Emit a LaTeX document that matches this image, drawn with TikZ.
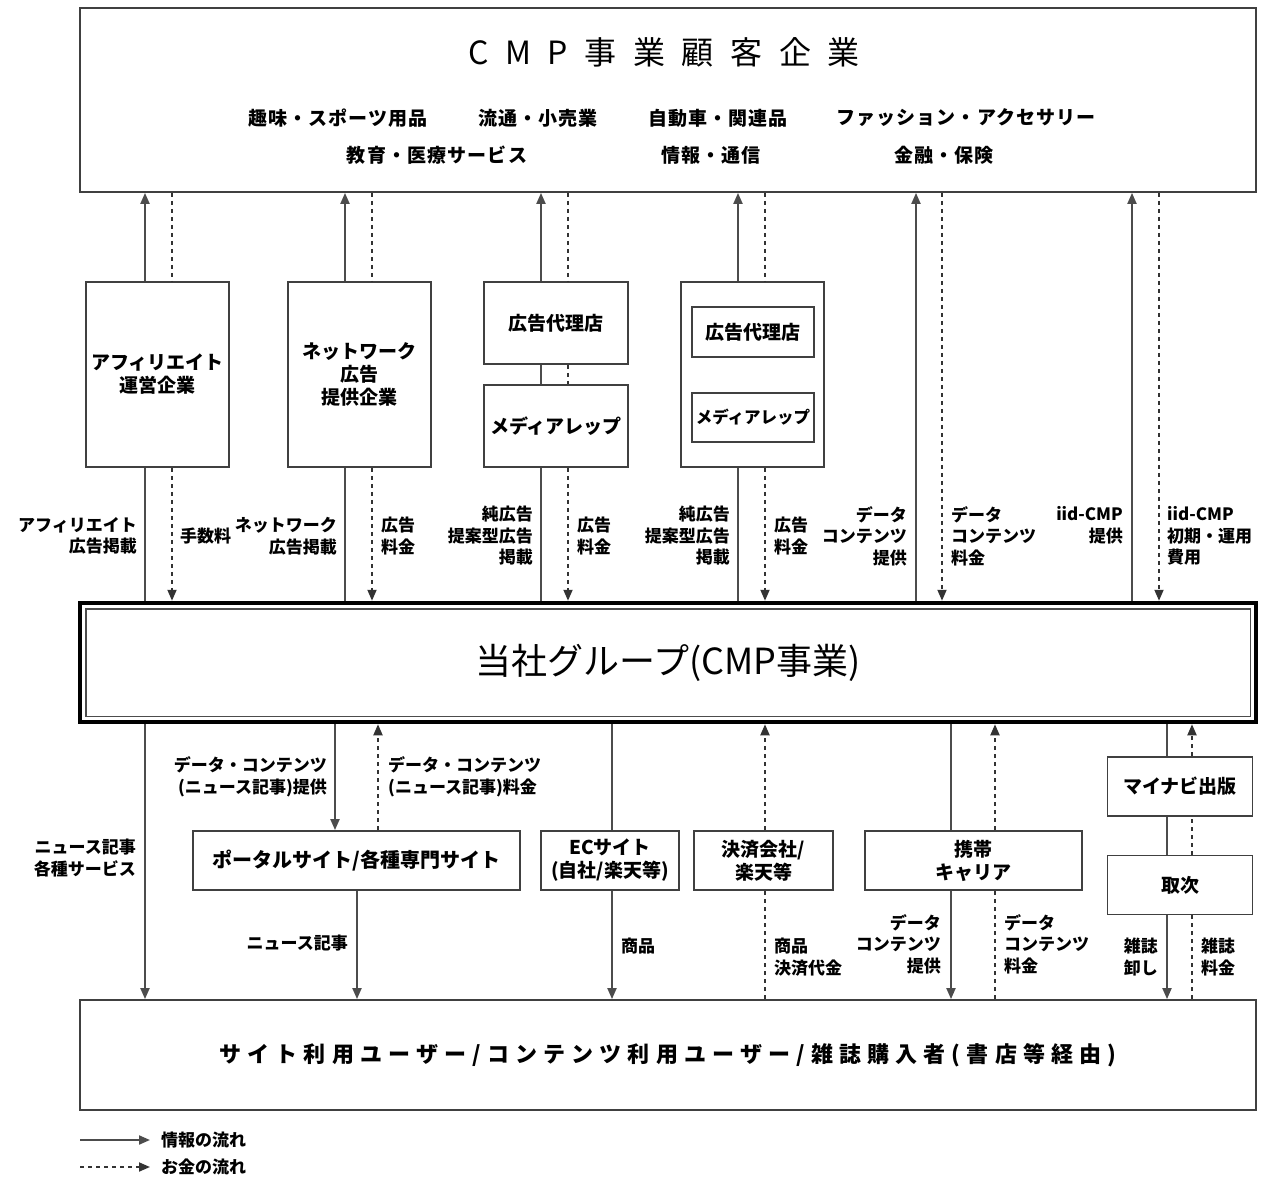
\documentclass[tikz,border=0pt]{standalone}
\usepackage{fontspec}
\setmainfont{Noto Sans CJK JP}
\usetikzlibrary{arrows.meta}

\tikzset{
	>={Triangle[length=11pt,width=9pt]},
	box/.style={draw=black!75, line width=1.8pt, inner sep=0pt, align=center, font=\fontsize{19}{23}\selectfont\bfseries},
	lbl/.style={inner sep=0pt, align=left, font=\fontsize{17}{21.5}\selectfont\bfseries},
	cat/.style={inner sep=0pt, font=\fontsize{19}{23}\selectfont\bfseries\addfontfeature{LetterSpace=6}},
	info/.style={draw=black!70, line width=2pt},
	money/.style={draw=black!80, line width=1.8pt, dash pattern=on 4pt off 4pt},
}

\begin{document}
\begin{tikzpicture}[x=1pt,y=-1pt]
			%%%%% START %%%%%
			\useasboundingbox (0,0) rectangle (1262,1180);
			
			% customers
			\node[box, minimum width=1176pt, minimum height=184pt] (top) at (668,100) {};
			\node[inner sep=0pt, font=\fontsize{32}{36}\selectfont\addfontfeature{LetterSpace=52}] (ttl) at (664,52) {CMP事業顧客企業};
			\node[cat] (c1) at (338,118) {趣味・スポーツ用品};
			\node[cat] (c2) at (538,118) {流通・小売業};
			\node[cat] (c3) at (718,118) {自動車・関連品};
			\node[cat] (c4) at (966,118) {ファッション・アクセサリー};
			\node[cat] (c5) at (437,155) {教育・医療サービス};
			\node[cat] (c6) at (711,155) {情報・通信};
			\node[cat] (c7) at (944,155) {金融・保険};
			
			% partners
			\node[box, minimum width=143pt, minimum height=185pt] (aff) at (157.5,374.5) {アフィリエイト\\運営企業};
			\node[box, minimum width=143pt, minimum height=185pt] (net) at (359.5,374.5) {ネットワーク\\広告\\提供企業};
			\node[box, minimum width=144pt, minimum height=82pt] (agA) at (556,323) {広告代理店};
			\node[box, minimum width=144pt, minimum height=82pt] (mrA) at (556,426) {メディアレップ};
			\node[box, minimum width=143pt, minimum height=185pt] (grp) at (752.5,374.5) {};
			\node[box, minimum width=122pt, minimum height=50pt] (agB) at (753,332) {広告代理店};
			\node[box, minimum width=122pt, minimum height=49pt, font=\fontsize{16.5}{20}\selectfont\bfseries] (mrB) at (753,417.5) {メディアレップ};
			
			% group
			\node[draw=black, line width=4.5pt, minimum width=1176pt, minimum height=119pt, inner sep=0pt, font=\fontsize{36}{40}\selectfont] (main) at (668,662.5) {当社グループ(CMP事業)};
			\draw[black!70, line width=1.5pt] ([shift={(8,8)}]main.north west) rectangle ([shift={(-8,-8)}]main.south east);
			
			% channels
			\node[box, minimum width=327pt, minimum height=59pt, font=\fontsize{20}{24}\selectfont\bfseries] (portal) at (356.5,860.5) {ポータルサイト/各種専門サイト};
			\node[box, minimum width=138pt, minimum height=59pt] (ec) at (610,860.5) {ECサイト\\(自社/楽天等)};
			\node[box, minimum width=139pt, minimum height=59pt] (pay) at (763.5,860.5) {決済会社/\\楽天等};
			\node[box, minimum width=217pt, minimum height=59pt] (mob) at (973.5,860.5) {携帯\\キャリア};
			\node[box, minimum width=145pt, minimum height=59pt] (pub) at (1180,786.5) {マイナビ出版};
			\node[box, minimum width=145pt, minimum height=59pt] (dist) at (1180,885) {取次};
			
			% users
			\node[box, minimum width=1176pt, minimum height=110pt, font=\fontsize{22}{26}\selectfont\bfseries\addfontfeature{LetterSpace=28}] (users) at (668,1055) {サイト利用ユーザー/コンテンツ利用ユーザー/雑誌購入者(書店等経由)};
			
			% upper flows
			\foreach \sx/\dx [count=\i] in {145/172, 345/372, 541/568, 738/765, 916/942, 1132/1159} {
				\coordinate (s\i) at (\sx,0);
				\coordinate (d\i) at (\dx,0);
			}
			\draw[info] (main.north -| s1) -- (aff.south -| s1);
			\draw[info,->] (aff.north -| s1) -- (top.south -| s1);
			\draw[money] (top.south -| d1) -- (aff.north -| d1);
			\draw[money,->] (aff.south -| d1) -- (main.north -| d1);
			
			\draw[info] (main.north -| s2) -- (net.south -| s2);
			\draw[info,->] (net.north -| s2) -- (top.south -| s2);
			\draw[money] (top.south -| d2) -- (net.north -| d2);
			\draw[money,->] (net.south -| d2) -- (main.north -| d2);
			
			\draw[info] (main.north -| s3) -- (mrA.south -| s3);
			\draw[info] (mrA.north -| s3) -- (agA.south -| s3);
			\draw[info,->] (agA.north -| s3) -- (top.south -| s3);
			\draw[money] (top.south -| d3) -- (agA.north -| d3);
			\draw[money] (agA.south -| d3) -- (mrA.north -| d3);
			\draw[money,->] (mrA.south -| d3) -- (main.north -| d3);
			
			\draw[info] (main.north -| s4) -- (grp.south -| s4);
			\draw[info,->] (grp.north -| s4) -- (top.south -| s4);
			\draw[money] (top.south -| d4) -- (grp.north -| d4);
			\draw[money,->] (grp.south -| d4) -- (main.north -| d4);
			
			\draw[info,->] (main.north -| s5) -- (top.south -| s5);
			\draw[money,->] (top.south -| d5) -- (main.north -| d5);
			\draw[info,->] (main.north -| s6) -- (top.south -| s6);
			\draw[money,->] (top.south -| d6) -- (main.north -| d6);
			
			\node[lbl, align=right, anchor=east] (la1) at (137,536) {アフィリエイト\\広告掲載};
			\node[lbl, anchor=west] (la2) at (180,536) {手数料};
			\node[lbl, align=right, anchor=east] (la3) at (337,536) {ネットワーク\\広告掲載};
			\node[lbl, anchor=west] (la4) at (381,536) {広告\\料金};
			\node[lbl, align=right, anchor=east] (la5) at (533,536) {純広告\\提案型広告\\掲載};
			\node[lbl, anchor=west] (la6) at (577,536) {広告\\料金};
			\node[lbl, align=right, anchor=east] (la7) at (730,536) {純広告\\提案型広告\\掲載};
			\node[lbl, anchor=west] (la8) at (774,536) {広告\\料金};
			\node[lbl, align=right, anchor=east] (la9) at (907,536) {データ\\コンテンツ\\提供};
			\node[lbl, anchor=west] (la10) at (951,536) {データ\\コンテンツ\\料金};
			\node[lbl, align=right, anchor=east] (la11) at (1123,525) {iid-CMP\\提供};
			\node[lbl, anchor=west] (la12) at (1167,536) {iid-CMP\\初期・運用\\費用};
			
			% lower flows
			\foreach \bx [count=\i] in {145, 335, 378, 357, 612, 765, 951, 995, 1167, 1192} {
				\coordinate (b\i) at (\bx,0);
			}
			\draw[info,->] (main.south -| b1) -- (users.north -| b1);
			\draw[info,->] (main.south -| b2) -- (portal.north -| b2);
			\draw[money,->] (portal.north -| b3) -- (main.south -| b3);
			\draw[info,->] (portal.south -| b4) -- (users.north -| b4);
			\draw[info] (main.south -| b5) -- (ec.north -| b5);
			\draw[info,->] (ec.south -| b5) -- (users.north -| b5);
			\draw[money] (users.north -| b6) -- (pay.south -| b6);
			\draw[money,->] (pay.north -| b6) -- (main.south -| b6);
			\draw[info] (main.south -| b7) -- (mob.north -| b7);
			\draw[info,->] (mob.south -| b7) -- (users.north -| b7);
			\draw[money] (users.north -| b8) -- (mob.south -| b8);
			\draw[money,->] (mob.north -| b8) -- (main.south -| b8);
			\draw[info] (main.south -| b9) -- (pub.north -| b9);
			\draw[info] (pub.south -| b9) -- (dist.north -| b9);
			\draw[info,->] (dist.south -| b9) -- (users.north -| b9);
			\draw[money] (users.north -| b10) -- (dist.south -| b10);
			\draw[money] (dist.north -| b10) -- (pub.south -| b10);
			\draw[money,->] (pub.north -| b10) -- (main.south -| b10);
			
			\node[lbl, align=right, anchor=east] (lb1) at (136,858) {ニュース記事\\各種サービス};
			\node[lbl, align=right, anchor=east] (lb2) at (327,777) {データ・コンテンツ\\(ニュース記事)提供};
			\node[lbl, anchor=west] (lb3) at (388,777) {データ・コンテンツ\\(ニュース記事)料金};
			\node[lbl, anchor=east] (lb4) at (348,943) {ニュース記事};
			\node[lbl, anchor=west] (lb5) at (621,946) {商品};
			\node[lbl, anchor=west] (lb6) at (774,957) {商品\\決済代金};
			\node[lbl, align=right, anchor=east] (lb7) at (941,944) {データ\\コンテンツ\\提供};
			\node[lbl, anchor=west] (lb8) at (1004,944) {データ\\コンテンツ\\料金};
			\node[lbl, align=right, anchor=east] (lb9) at (1158,957) {雑誌\\卸し};
			\node[lbl, anchor=west] (lb10) at (1201,957) {雑誌\\料金};
			
			% legend
			\coordinate (lgA) at (80,1140);
			\coordinate (lgB) at (150,1140);
			\coordinate (lgC) at (80,1167);
			\coordinate (lgD) at (150,1167);
			\draw[info,->] (lgA) -- (lgB);
			\draw[money,->] (lgC) -- (lgD);
			\node[lbl, anchor=west] (lgInfo) at (161,1140) {情報の流れ};
			\node[lbl, anchor=west] (lgMoney) at (161,1167) {お金の流れ};
			
			%%%%% END %%%%%
\end{tikzpicture}
\end{document}
